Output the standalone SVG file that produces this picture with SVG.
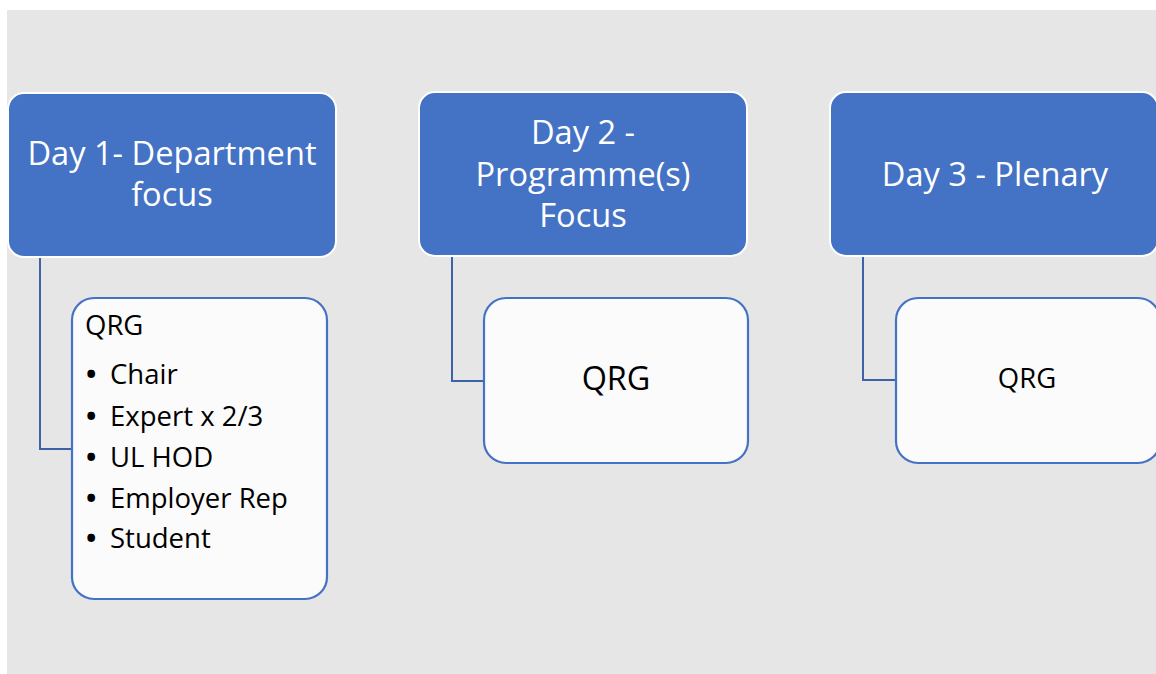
<svg xmlns="http://www.w3.org/2000/svg" width="1156" height="674" viewBox="0 0 1156 674">
<style>
.head{fill:#4472C4;stroke:#FFFFFF;stroke-width:2}
.child{fill:#FBFBFB;stroke:#4472C4;stroke-width:2.2}
.ht{font-family:"Open Sans",sans-serif;font-size:32.6px;fill:#FFFFFF;text-anchor:middle}
.ct{font-family:"Open Sans",sans-serif;font-size:27.5px;fill:#000000}
.bt{font-family:"Open Sans",sans-serif;font-size:27.5px;fill:#000000;font-weight:bold}
.conn{fill:none;stroke:#3E62A8;stroke-width:2}
</style>
<rect x="0" y="0" width="1156" height="674" fill="#FFFFFF"/>
<rect x="7" y="10" width="1149" height="664" fill="#E7E6E6"/>
<g id="connectors">
<path class="conn" d="M40,257 V449 H72"/>
<path class="conn" d="M452,257 V381 H484"/>
<path class="conn" d="M863,257 V380 H896"/>
</g>
<g id="day1">
<rect class="head" x="8" y="93" width="328" height="164" rx="16"/>
<text class="ht" x="172" y="165">Day 1- Department</text>
<text class="ht" x="172" y="206">focus</text>
</g>
<g id="day2">
<rect class="head" x="419" y="92" width="328" height="164" rx="16"/>
<text class="ht" x="583" y="144">Day 2 -</text>
<text class="ht" x="583" y="186">Programme(s)</text>
<text class="ht" x="583" y="227">Focus</text>
</g>
<g id="day3">
<rect class="head" x="830" y="92" width="328" height="164" rx="16"/>
<text class="ht" x="995" y="186">Day 3 - Plenary</text>
</g>
<g id="qrg1">
<rect class="child" x="72" y="298" width="255" height="301" rx="22"/>
<text class="ct" x="85" y="335">QRG</text>
<text class="bt" x="86" y="384">•</text><text class="ct" x="110" y="384">Chair</text>
<text class="bt" x="86" y="426">•</text><text class="ct" x="110" y="426">Expert x 2/3</text>
<text class="bt" x="86" y="467">•</text><text class="ct" x="110" y="467">UL HOD</text>
<text class="bt" x="86" y="508">•</text><text class="ct" x="110" y="508">Employer Rep</text>
<text class="bt" x="86" y="548">•</text><text class="ct" x="110" y="548">Student</text>
</g>
<g id="qrg2">
<rect class="child" x="484" y="298" width="264" height="165" rx="22"/>
<text class="ct" x="616" y="390" text-anchor="middle" style="font-size:32.4px">QRG</text>
</g>
<g id="qrg3">
<rect class="child" x="896" y="298" width="264" height="165" rx="22"/>
<text class="ct" x="1027" y="388" text-anchor="middle">QRG</text>
</g>
</svg>
